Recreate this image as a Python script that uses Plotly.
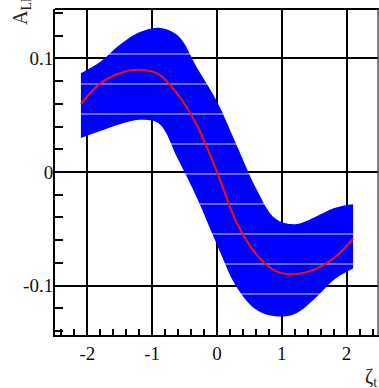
import plotly.graph_objects as go

# data
x_vals = [-2.1, -1.8, -1.5, -1.2, -0.9, -0.6, -0.3, 0.0, 0.3, 0.6, 0.9, 1.2, 1.5, 1.8, 2.1]
central = [0.060, 0.078, 0.087, 0.090, 0.086, 0.068, 0.040, 0.000, -0.044, -0.072, -0.087, -0.090, -0.086, -0.076, -0.059]
upper = [0.087, 0.097, 0.112, 0.123, 0.127, 0.120, 0.091, 0.062, 0.024, -0.014, -0.041, -0.046, -0.040, -0.032, -0.028]
lower = [0.030, 0.036, 0.042, 0.046, 0.043, 0.011, -0.024, -0.064, -0.101, -0.121, -0.127, -0.125, -0.112, -0.095, -0.085]

x_tickvals = [-2, -1, 0, 1, 2]
x_ticktext = ["-2", "-1", "0", "1", "2"]
y_tickvals = [-0.1, 0, 0.1]
y_ticktext = ["-0.1", "0", "0.1"]

FONT = "Liberation Serif"

fig = go.Figure()
fig.add_trace(go.Scatter(x=x_vals, y=lower, mode="lines", line=dict(width=0, shape="spline", color="#0000ff"),
                         showlegend=False, hoverinfo="skip"))
fig.add_trace(go.Scatter(x=x_vals, y=upper, mode="lines", line=dict(width=0, shape="spline", color="#0000ff"),
                         fill="tonexty", fillcolor="#0000ff",
                         fillpattern=dict(shape="-", fgcolor="#ffffff", fgopacity=0.45, bgcolor="#0000ff",
                                          size=30, solidity=0.06),
                         showlegend=False, hoverinfo="skip"))
fig.add_trace(go.Scatter(x=x_vals, y=central, mode="lines", line=dict(width=2, shape="spline", color="#ee1111"),
                         showlegend=False, hoverinfo="skip"))

axis_common = dict(showline=True, linecolor="black", linewidth=2, mirror=False,
                   showgrid=True, gridcolor="black", gridwidth=2,
                   ticks="inside", tickcolor="black", zeroline=False,
                   tickfont=dict(family=FONT, size=19, color="#111111"))

fig.update_xaxes(range=[-2.5, 2.5], tickvals=x_tickvals, ticktext=x_ticktext, ticklen=8, tickwidth=1.5,
                 minor=dict(ticks="inside", dtick=0.2, tick0=0, ticklen=6, tickcolor="black", tickwidth=1.5, showgrid=False),
                 **axis_common)
fig.update_yaxes(range=[-0.1435, 0.1435], tickvals=y_tickvals, ticktext=y_ticktext, ticklen=8, tickwidth=1.5,
                 minor=dict(ticks="inside", dtick=0.02, tick0=0, ticklen=8, tickcolor="black", tickwidth=1.5, showgrid=False),
                 ticklabelstandoff=-4, **axis_common)

# top and right frame lines
fig.add_shape(type="line", xref="paper", yref="paper", x0=0, x1=1, y0=1, y1=1,
              line=dict(color="black", width=2))
fig.add_shape(type="line", xref="paper", yref="paper", x0=0.997, x1=0.997, y0=0, y1=1,
              line=dict(color="#555555", width=1.5))

fig.add_annotation(text="A<sub>LL</sub>", xref="paper", yref="paper", x=-0.105, y=1.0,
                   xanchor="center", yanchor="middle", textangle=-90, showarrow=False,
                   font=dict(family=FONT, size=20, color="#222222"))
fig.add_annotation(text="ζ<sub>t</sub>", xref="paper", yref="paper", x=0.952, y=-0.085,
                   xanchor="left", yanchor="top", showarrow=False,
                   font=dict(family=FONT, size=20, color="#222222"))

fig.update_layout(width=379, height=388, margin=dict(l=55, r=0, t=9, b=53),
                  plot_bgcolor="white", paper_bgcolor="white")

fig.write_html("out.html")
